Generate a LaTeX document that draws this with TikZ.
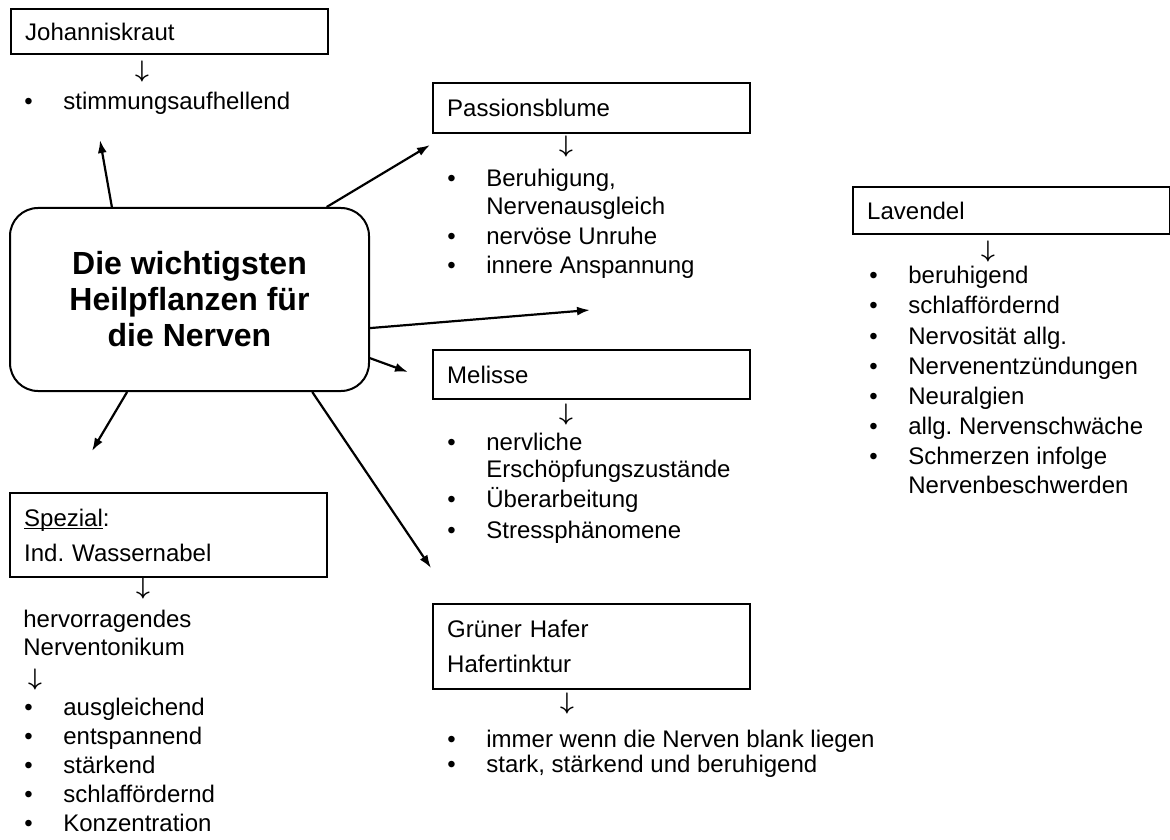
\documentclass[tikz,border=0pt]{standalone}
\usepackage{fontspec}
\setmainfont{Liberation Sans}
\usetikzlibrary{arrows.meta}
\frenchspacing
\tikzstyle{hub}=[draw, line width=1pt, rounded corners=14pt, minimum width=179.5pt, minimum height=91.5pt, align=center, font=\bfseries\fontsize{16}{18}\selectfont]
\tikzstyle{plantbox}=[draw, line width=1.2pt, anchor=north west, text width=144.5pt, inner xsep=7pt, inner ysep=0pt, minimum height=24pt, align=left, font=\fontsize{12}{17.5}\selectfont]
\tikzstyle{listline}=[anchor=base west, inner sep=0pt, font=\fontsize{12}{14}\selectfont]
\tikzstyle{thenmark}=[inner sep=0pt, font=\fontsize{12}{14}\selectfont\boldmath]
\tikzstyle{spoke}=[line width=1.1pt, -{Latex[length=6.5pt,width=4.5pt]}]
\newcommand{\bul}{\makebox[19.5pt][l]{\textbullet}}
\newcommand{\ul}[1]{\setbox0\hbox{#1}\rlap{\rule[-1.6pt]{\wd0}{0.6pt}}#1}

\begin{document}
\begin{tikzpicture}[x=0.5pt, y=-0.5pt]
	\useasboundingbox (0,0) rectangle (1170,839);
	\node[hub] (hub) at (189.5,299.5) {Die wichtigsten\\Heilpflanzen für\\die Nerven};
	%Johanniskraut
	\node[plantbox, minimum height=22.5pt] (johann) at (10,8) {Johanniskraut};
	\node[thenmark] (johannto) at (142,72) {$\downarrow$};
	\node[listline] (johann1) at (24,110) {\bul stimmungsaufhellend};
	%Passionsblume
	\node[plantbox, minimum height=25pt] (passion) at (432,82) {Passionsblume};
	\node[thenmark] (passionto) at (566,147) {$\downarrow$};
	\node[listline] (passion1) at (447,187) {\bul Beruhigung,};
	\node[listline] (passion2) at (486,215) {Nervenausgleich};
	\node[listline] (passion3) at (447,245) {\bul nervöse Unruhe};
	\node[listline] (passion4) at (447,273) {\bul innere Anspannung};
	%Melisse
	\node[plantbox, minimum height=24.5pt] (melisse) at (432,349) {Melisse};
	\node[thenmark] (melisseto) at (566,414) {$\downarrow$};
	\node[listline] (melisse1) at (447,450) {\bul nervliche};
	\node[listline] (melisse2) at (486,477) {Erschöpfungszustände};
	\node[listline] (melisse3) at (447,507) {\bul Überarbeitung};
	\node[listline] (melisse4) at (447,538) {\bul Stressphänomene};
	%Gruener Hafer
	\node[plantbox, minimum height=42.5pt] (hafer) at (432,603) {Grüner Hafer\\Hafertinktur};
	\node[thenmark] (haferto) at (567,703) {$\downarrow$};
	\node[listline] (hafer1) at (447,747) {\bul immer wenn die Nerven blank liegen};
	\node[listline] (hafer2) at (447,772) {\bul stark, stärkend und beruhigend};
	%Lavendel
	\node[plantbox, minimum height=23.5pt] (lavendel) at (852,186) {Lavendel};
	\node[thenmark] (lavendelto) at (988,251) {$\downarrow$};
	\foreach \t [count=\i] in {beruhigend, schlaffördernd, Nervosität allg., Nervenentzündungen, Neuralgien, allg. Nervenschwäche, Schmerzen infolge}
		\node[listline] (lavendel\i) at (869,254+30*\i) {\bul\t};
	\node[listline] (lavendel8) at (908,493) {Nervenbeschwerden};
	%Spezial
	\node[plantbox, minimum height=42pt] (spezial) at (9,492) {\ul{Spezial}:\\Ind. Wassernabel};
	\node[thenmark] (spezialto) at (143,588) {$\downarrow$};
	\node[listline] (tonikum1) at (23,627) {hervorragendes};
	\node[listline] (tonikum2) at (23,655) {Nerventonikum};
	\node[thenmark] (tonikumto) at (35,679) {$\downarrow$};
	\foreach \t [count=\i] in {ausgleichend, entspannend, stärkend, schlaffördernd, Konzentration}
		\node[listline] (spezial\i) at (24,686+29*\i) {\bul\t};
	%spokes
	\coordinate (johanntip) at (100,140);
	\coordinate (passiontip) at (430,145);
	\coordinate (lavendeltip) at (590,310);
	\coordinate (melissetip) at (408,372);
	\coordinate (hafertip) at (431,568);
	\coordinate (spezialtip) at (92,451);
	\draw[spoke] (hub.130) -- (johanntip);
	\draw[spoke] (hub.34) -- (passiontip);
	\draw[spoke] (hub.-9) -- (lavendeltip);
	\draw[spoke] (hub.-18) -- (melissetip);
	\draw[spoke] (hub.-37) -- (hafertip);
	\draw[spoke] (hub.-124) -- (spezialtip);
\end{tikzpicture}
\end{document}
